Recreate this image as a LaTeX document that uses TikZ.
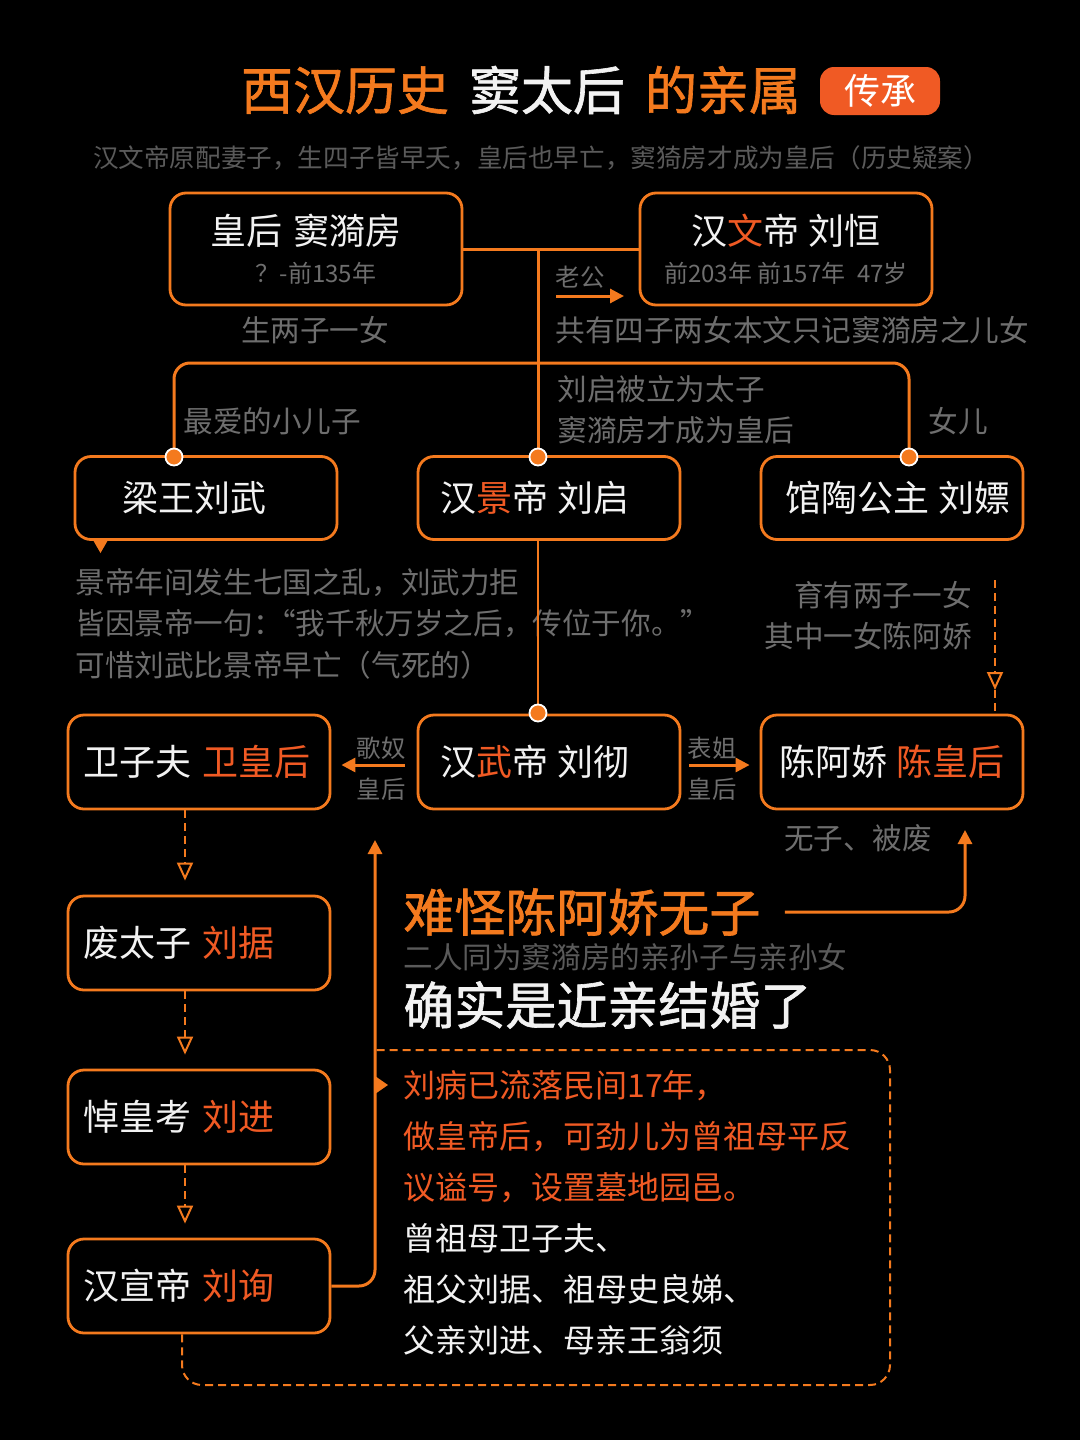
\documentclass[tikz,border=0pt]{standalone}
\usepackage{fontspec}
\setmainfont{Noto Sans CJK SC}
\newfontfamily\headfont[FakeBold=1.2]{Noto Sans CJK SC}
\usepackage{xcolor}
\usetikzlibrary{arrows.meta, positioning, shapes.geometric}
\definecolor{bg}{HTML}{000000}
\definecolor{orn}{HTML}{F47A1E}
\definecolor{hot}{HTML}{F05A24}
\definecolor{grytxt}{HTML}{6E6E6E}
\definecolor{dimtxt}{HTML}{5A5A5A}
\definecolor{wht}{HTML}{F2F2F2}
\newcommand{\hilite}[1]{\textcolor{hot}{#1}}
\newcommand{\subsz}{\fontsize{12}{16}\selectfont\color{grytxt}}
\tikzstyle{person} = [rectangle, rounded corners=8pt,
minimum width=131pt,
minimum height=41.5pt,
text centered,
text=wht,
font=\fontsize{18}{22}\selectfont,
line width=1.4pt,
draw=orn]
\tikzstyle{topbox} = [person,
minimum width=146pt,
minimum height=56pt,
align=center]
\tikzstyle{tallbox} = [person, minimum height=47pt]
\tikzstyle{leftbox} = [tallbox,
text width=116pt,
inner xsep=7.5pt,
align=left]
\tikzstyle{lbl} = [text=grytxt, inner sep=0pt, font=\fontsize{14.8}{20.5}\selectfont]
\tikzstyle{smalllbl} = [text=grytxt, inner sep=0pt, font=\fontsize{12.2}{16}\selectfont]
\tikzstyle{headline} = [anchor=west, inner sep=0pt, font=\headfont\fontsize{25.5}{30}\selectfont]
\tikzstyle{joint} = [circle, fill=orn, draw=white, line width=0.9pt, minimum size=8.5pt, inner sep=0pt]
\tikzstyle{link} = [draw=orn, line width=1.5pt]
\tikzstyle{thinlink} = [draw=orn, line width=1pt]
\tikzstyle{arrow} = [link, -{Triangle[length=7pt,width=7pt]}]
\tikzstyle{dashline} = [draw=orn, line width=1pt, dash pattern=on 4pt off 2.5pt]
\tikzstyle{dasharrow} = [dashline, -{Triangle[open,length=9pt,width=8pt]}]

\begin{document}
\begin{tikzpicture}[x=0.5pt, y=-0.5pt]

        \fill[bg] (0,0) rectangle (1080,1440);
        \useasboundingbox (0,0) rectangle (1080,1440);

        % Titulo
        \node (title) [font=\headfont\fontsize{26}{30}\selectfont, text=wht] at (521,90) {\textcolor{orn}{西汉历史}\hspace{10pt}窦太后\hspace{10pt}\textcolor{orn}{的亲属}};
        \node (badge) [rectangle, rounded corners=7pt, fill=hot, text=white, minimum width=60pt, minimum height=24pt, font=\fontsize{18}{20}\selectfont] at (880,91) {传承};
        \node (intro) [text=dimtxt, font=\fontsize{12.8}{16}\selectfont] at (541,158) {汉文帝原配妻子，生四子皆早夭，皇后也早亡，窦猗房才成为皇后（历史疑案）};

        % Nodos
        \node (dou) [topbox] at (316,249) {\hspace*{-10pt}皇后\hspace{6pt}窦漪房\\[-3pt]{\subsz ？-前135年}};
        \node (wen) [topbox] at (786,249) {汉\hilite{文}帝 刘恒\\[-3pt]{\subsz 前203年 前157年\hspace{6pt}47岁}};
        \node (liangwang) [person] at (206,498) {\hspace*{-12pt}梁王刘武};
        \node (jing) [person] at (549,498) {\hspace*{-14pt}汉\hilite{景}帝 刘启};
        \node (guantao) [person] at (892,498) {\hspace*{6pt}馆陶公主 刘嫖};
        \node (wei) [leftbox] at (199,762) {卫子夫 \hilite{卫皇后}};
        \node (wudi) [tallbox] at (549,762) {\hspace*{-14pt}汉\hilite{武}帝 刘彻};
        \node (chen) [tallbox] at (892,762) {陈阿娇 \hilite{陈皇后}};
        \node (ju) [leftbox] at (199,943) {废太子 \hilite{刘据}};
        \node (jin) [leftbox] at (199,1117) {悼皇考 \hilite{刘进}};
        \node (xuan) [leftbox] at (199,1286) {汉宣帝 \hilite{刘询}};

        % Textos
        \node (laogong) [smalllbl] at (580,277) {老公};
        \node (liangzi) [lbl] at (315,330) {生两子一女};
        \node (gongyou) [lbl, anchor=west] at (555,330) {共有四子两女本文只记窦漪房之儿女};
        \node (zuiai) [lbl, anchor=west] at (183,421) {最爱的小儿子};
        \node (taizi) [lbl, anchor=west, align=left] at (557,410) {刘启被立为太子\\窦漪房才成为皇后};
        \node (nver) [lbl] at (958,421) {女儿};
        \node (qiguo) [lbl, anchor=west] at (75,583) {景帝年间发生七国之乱，刘武力拒};
        \node (juanyan) [lbl, anchor=west, fill=bg, inner ysep=3pt] at (75,624) {皆因景帝一句：\kern-0.55em“我千秋万岁之后，传位于你。”};
        \node (kexi) [lbl, anchor=west] at (75,665) {可惜刘武比景帝早亡（气死的）};
        \node (yuyou) [lbl, anchor=east, align=right] at (972,616) {育有两子一女\\其中一女陈阿娇};
        \node (genu) [smalllbl] at (381,748) {歌奴};
        \node (weihou) [smalllbl] at (381,789) {皇后};
        \node (biaojie) [smalllbl] at (712,748) {表姐};
        \node (chenhou) [smalllbl] at (712,789) {皇后};
        \node (feifei) [lbl] at (858,838) {无子、被废};
        \node (nanguai) [headline, text=orn] at (403,912) {难怪陈阿娇无子};
        \node (sunzi) [anchor=west, inner sep=0pt, text=dimtxt, font=\fontsize{14.8}{18}\selectfont] at (403,957) {二人同为窦漪房的亲孙子与亲孙女};
        \node (jinqin) [headline, text=wht] at (403,1005) {确实是近亲结婚了};
        \node (story) [anchor=north west, inner sep=0pt, align=left, text=wht, font=\fontsize{16}{25.5}\selectfont] at (403,1070) {\hilite{刘病已流落民间17年，}\\\hilite{做皇帝后，可劲儿为曾祖母平反}\\\hilite{议谥号，设置墓地园邑。}\\曾祖母卫子夫、\\祖父刘据、祖母史良娣、\\父亲刘进、母亲王翁须};

        % Puntos
        \coordinate (fork) at (538,363);
        \coordinate (j1) at (174,457);
        \coordinate (j2) at (538,457);
        \coordinate (j3) at (909,457);
        \coordinate (j4) at (538,713);
        \coordinate (col) at (185,0);
        \coordinate (dashTop) at (995,580);
        \coordinate (dashMid) at (995,690);
        \coordinate (upTip) at (375,840);
        \coordinate (feiTip) at (965,830);
        \coordinate (lgA) at (556,296);
        \coordinate (lgB) at (624,296);

        % Conexiones
        \draw [link] (dou.east) -- (wen.west);
        \draw [link] (dou.east -| j2) -- (j2);
        \draw [link, rounded corners=8pt] (j1) |- (fork) -| (j3);
        \draw [thinlink] (jing.south -| j4) -- (j4);
        \draw [arrow] (lgA) -- (lgB);
        \fill [orn] (93,540) -- (108,540) -- (100.5,553) -- cycle;
        \draw [dasharrow] (dashTop) -- (dashMid);
        \draw [dashline] (dashMid) -- (dashMid |- chen.north);
        \draw [arrow, shorten <=6pt, shorten >=5pt] (wudi.west) ++(0,3) -- (wei.east |- 0,765);
        \draw [arrow, shorten <=4pt, shorten >=5pt] (wudi.east) ++(0,3) -- (chen.west |- 0,765);
        \draw [dasharrow, shorten >=7pt] (wei.south -| col) -- (ju.north -| col);
        \draw [dasharrow, shorten >=7pt] (ju.south -| col) -- (jin.north -| col);
        \draw [dasharrow, shorten >=7pt] (jin.south -| col) -- (xuan.north -| col);
        \draw [arrow, rounded corners=8pt] (xuan.east) -| (upTip);
        \draw [arrow, rounded corners=8pt] ([xshift=12pt]nanguai.east) -| (feiTip);
        \draw [dashline, rounded corners=10pt] (xuan.south -| 182,0) -- (182,1385) -- (890,1385) -- (890,1050) -- (375,1050);
        \fill [orn] (375,1076) -- (388,1085) -- (375,1094) -- cycle;

        \node (d1) [joint] at (j1) {};
        \node (d2) [joint] at (j2) {};
        \node (d3) [joint] at (j3) {};
        \node (d4) [joint] at (j4) {};

    \end{tikzpicture}
\end{document}
